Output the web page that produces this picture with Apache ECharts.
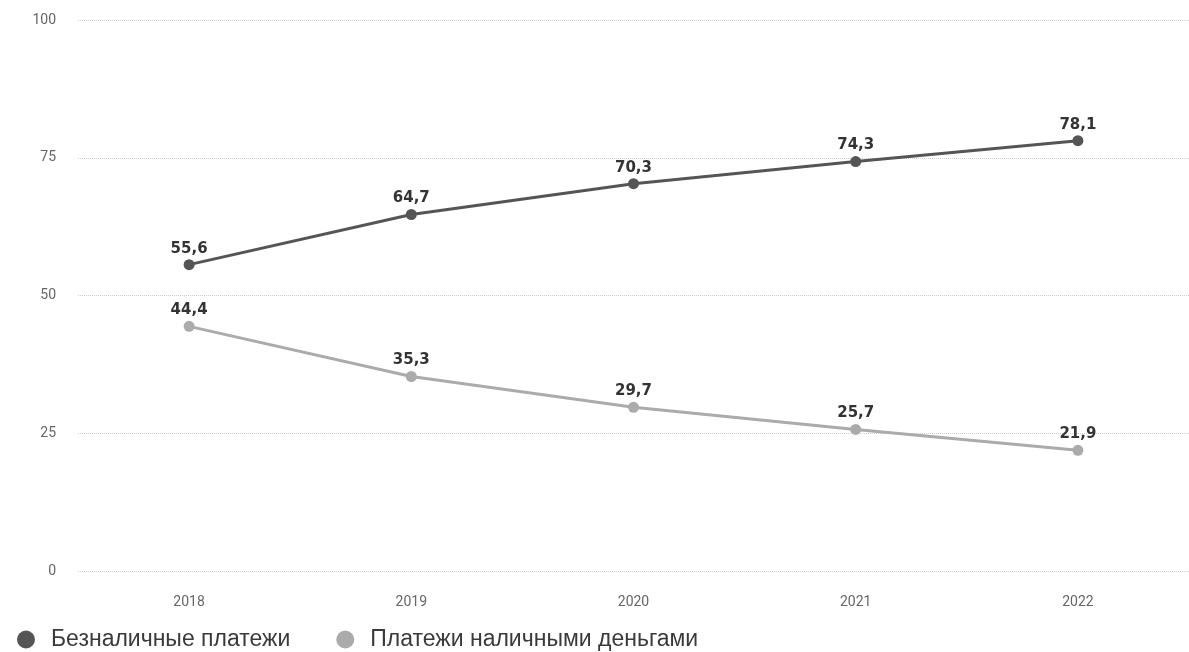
<!DOCTYPE html>
<html><head><meta charset="utf-8">
<script src="https://cdn.jsdelivr.net/npm/echarts@6/dist/echarts.min.js"></script>
<style>html,body{margin:0;padding:0;background:#fff}#c{width:1189px;height:652px}</style>
</head><body><div id="c"></div>
<script>
var years = ['2018', '2019', '2020', '2021', '2022'];
var cashless = [55.6, 64.7, 70.3, 74.3, 78.1];
var cash = [44.4, 35.3, 29.7, 25.7, 21.9];
var seriesNames = ['Безналичные платежи', 'Платежи наличными деньгами'];

var chart = echarts.init(document.getElementById('c'));
function fmt(p){ return String(p.value).replace('.', ','); }
var lblStyle = { show: true, position: 'top', distance: 3, formatter: fmt,
  fontSize: 15, fontWeight: 'bold', color: '#333', fontFamily: '"DejaVu Sans", sans-serif' };
chart.setOption({
  animation: false,
  backgroundColor: '#fff',
  textStyle: { fontFamily: 'Roboto, "Noto Sans", sans-serif' },
  grid: { left: 78, right: -8, top: 20, bottom: 81, containLabel: false },
  legend: {
    left: 12, top: 623, itemGap: 46, itemWidth: 18, itemHeight: 18,
    icon: 'circle',
    textStyle: { fontSize: 23, color: '#3a3a3a', fontFamily: '"Liberation Sans", Arial, sans-serif', padding: [0, 0, 0, 11] },
    data: seriesNames
  },
  xAxis: {
    type: 'category', data: years, boundaryGap: true,
    axisLine: { show: false }, axisTick: { show: false },
    axisLabel: { color: '#666', fontSize: 14, margin: 24 }
  },
  yAxis: {
    type: 'value', min: 0, max: 100, interval: 25,
    axisLine: { show: false }, axisTick: { show: false },
    axisLabel: { color: '#666', fontSize: 14, margin: 22 },
    splitLine: { lineStyle: { color: '#cfcfcf', type: 'dotted', width: 1 } }
  },
  series: [
    {
      name: seriesNames[0], type: 'line', data: cashless,
      color: '#555', symbol: 'circle', symbolSize: 11,
      lineStyle: { width: 3, color: '#555' },
      itemStyle: { color: '#555' },
      label: lblStyle
    },
    {
      name: seriesNames[1], type: 'line', data: cash,
      color: '#ababab', symbol: 'circle', symbolSize: 11,
      lineStyle: { width: 3, color: '#ababab' },
      itemStyle: { color: '#ababab' },
      label: lblStyle
    }
  ]
});
</script></body></html>
